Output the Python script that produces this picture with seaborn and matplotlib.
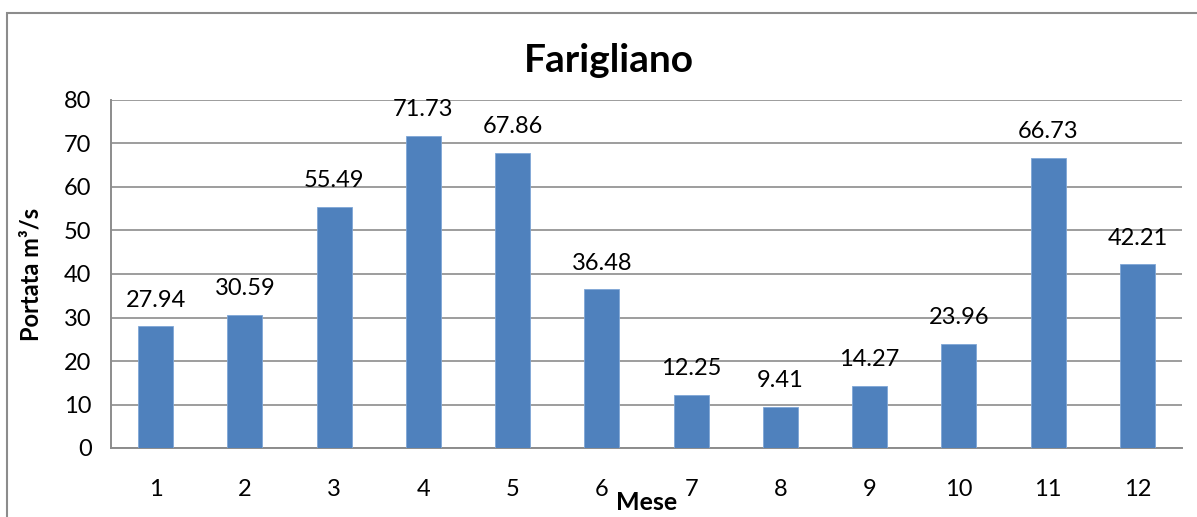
import matplotlib
matplotlib.use("Agg")
import matplotlib.pyplot as plt
from matplotlib.patches import Rectangle
import seaborn as sns
import pandas as pd

mesi = ["1", "2", "3", "4", "5", "6", "7", "8", "9", "10", "11", "12"]
portata = [27.94, 30.59, 55.49, 71.73, 67.86, 36.48, 12.25, 9.41, 14.27, 23.96, 66.73, 42.21]
y_ticks = [0, 10, 20, 30, 40, 50, 60, 70, 80]

df = pd.DataFrame({"Mese": mesi, "Portata": portata})

sns.set_theme(style="white")
plt.rcParams["font.family"] = ["Lato", "DejaVu Sans"]
plt.rcParams["text.color"] = "black"
plt.rcParams["axes.labelcolor"] = "black"

fig = plt.figure(figsize=(11.97, 5.17), dpi=100)
ax = fig.add_axes([111 / 1197, 1 - 448 / 517, (1182 - 111) / 1197, (448 - 100) / 517])

sns.barplot(data=df, x="Mese", y="Portata", color="#4F81BD", saturation=1,
            width=0.39, ax=ax, edgecolor="#7FA6D6", linewidth=0.6, zorder=3)

ax.set_ylim(0, 80)
ax.set_yticks(y_ticks)
ax.yaxis.grid(True, color="#8c8c8c", linewidth=1.2, zorder=0)
ax.set_axisbelow(True)
for side in ["top", "right"]:
    ax.spines[side].set_visible(False)
for side in ["left", "bottom"]:
    ax.spines[side].set_color("#8c8c8c")
    ax.spines[side].set_linewidth(1.4)
ax.tick_params(axis="both", length=0, labelsize=17, colors="black")
ax.tick_params(axis="x", pad=22)
ax.tick_params(axis="y", pad=14)

for i, v in enumerate(portata):
    ax.text(i, v + 3.6, f"{v:.2f}", ha="center", va="bottom", fontsize=17, color="black")

ax.set_xlabel("")
ax.set_ylabel("Portata m³/s", fontsize=17, fontweight="bold", color="black")
ax.yaxis.set_label_coords(-0.064, 0.5)
fig.text(647 / 1197, 1 - 503 / 517, "Mese", ha="center", va="center",
         fontsize=18, fontweight="bold", color="black")
fig.text(609 / 1197, 1 - 60 / 517, "Farigliano", ha="center", va="center",
         fontsize=28, fontweight="bold", color="black")

fig.patches.append(Rectangle((7 / 1197, -0.2), 1.1, 0.2 + (517 - 13) / 517,
                             transform=fig.transFigure, fill=False,
                             edgecolor="#8c8c8c", linewidth=1.5, zorder=10))

fig.savefig("out.png", dpi=100, facecolor="white")
